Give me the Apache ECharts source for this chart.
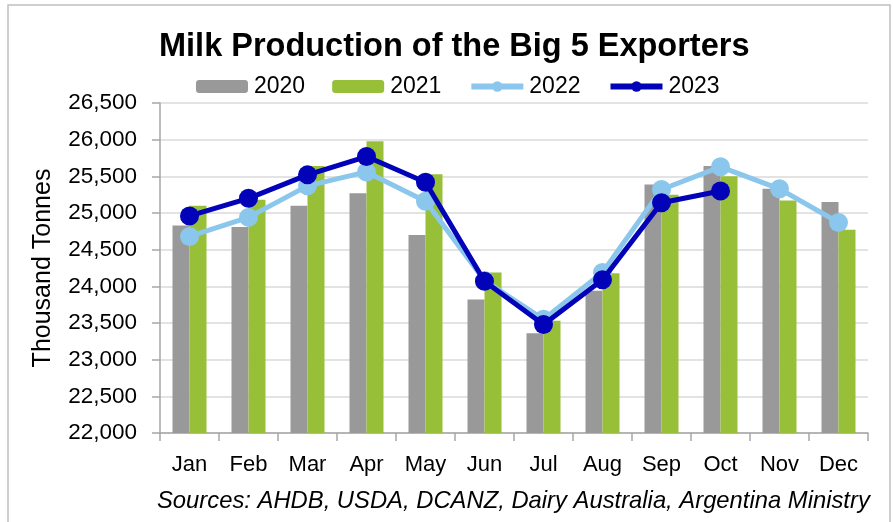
<!DOCTYPE html>
<html>
<head>
<meta charset="utf-8">
<title>Milk Production of the Big 5 Exporters</title>
<script src="https://cdn.jsdelivr.net/npm/echarts@6/dist/echarts.min.js"></script>
<style>
  html, body { margin: 0; padding: 0; background: #ffffff; }
  #chart { width: 893px; height: 522px; }
</style>
</head>
<body>
<div id="chart"></div>
<script>
// Monthly milk production, thousand tonnes
const months = ['Jan', 'Feb', 'Mar', 'Apr', 'May', 'Jun', 'Jul', 'Aug', 'Sep', 'Oct', 'Nov', 'Dec'];
const y2020 = [24830, 24810, 25100, 25270, 24700, 23820, 23360, 23940, 25390, 25640, 25330, 25150];
const y2021 = [25100, 25180, 25640, 25980, 25530, 24190, 23530, 24180, 25250, 25500, 25170, 24770];
const y2022 = [24680, 24940, 25370, 25560, 25160, 24080, 23550, 24190, 25320, 25630, 25330, 24870];
const y2023 = [24960, 25200, 25520, 25770, 25420, 24070, 23480, 24090, 25140, 25300, null, null];
const yTicks = { min: 22000, max: 26500, step: 500 };

const FONT = '"Liberation Sans", Arial, sans-serif';
const chart = echarts.init(document.getElementById('chart'), null, { renderer: 'canvas' });

function lineSeries(name, data, color, z) {
  return {
    name: name,
    type: 'line',
    data: data,
    z: z,
    symbol: 'circle',
    symbolSize: 19,
    lineStyle: { color: color, width: 5 },
    itemStyle: { color: color },
    connectNulls: false,
    animation: false
  };
}

chart.setOption({
  backgroundColor: '#ffffff',
  animation: false,
  title: {
    text: 'Milk Production of the Big 5 Exporters',
    left: 154,
    top: 26,
    textStyle: { fontFamily: FONT, fontSize: 32.5, fontWeight: 'bold', color: '#000000' }
  },
  legend: {
    top: 70,
    left: 191,
    itemWidth: 52,
    itemHeight: 13,
    itemGap: 27,
    textStyle: { fontFamily: FONT, fontSize: 23, color: '#000000', padding: [0, 0, 0, 1] },
    data: [
      { name: '2020' },
      { name: '2021' },
      { name: '2022', lineStyle: { width: 6 }, itemStyle: { color: '#8bc6ec' } },
      { name: '2023', lineStyle: { width: 6 }, itemStyle: { color: '#0202b8' } }
    ]
  },
  grid: { left: 160, right: 25, top: 103, bottom: 89, containLabel: false },
  xAxis: {
    type: 'category',
    data: months,
    boundaryGap: true,
    axisLine: { lineStyle: { color: '#a6a6a6', width: 1.5 } },
    axisTick: { show: true, length: 8, alignWithLabel: false, lineStyle: { color: '#a6a6a6', width: 1.5 } },
    axisLabel: { fontFamily: FONT, fontSize: 22, color: '#000000', margin: 21 },
    splitLine: { show: false }
  },
  yAxis: {
    type: 'value',
    min: yTicks.min,
    max: yTicks.max,
    interval: yTicks.step,
    name: 'Thousand Tonnes',
    nameLocation: 'middle',
    nameGap: 104,
    nameTextStyle: { fontFamily: FONT, fontSize: 25, color: '#000000' },
    axisLine: { show: true, lineStyle: { color: '#a6a6a6', width: 1.5 } },
    axisTick: { show: true, length: 8, lineStyle: { color: '#a6a6a6', width: 1.5 } },
    axisLabel: {
      fontFamily: FONT, fontSize: 22.5, color: '#000000', margin: 23,
      formatter: v => v.toLocaleString('en-US')
    },
    splitLine: { show: true, lineStyle: { color: '#e3e3e3', width: 2 } }
  },
  graphic: [
    {
      type: 'rect',
      shape: { x: 8, y: 5, width: 882, height: 540 },
      style: { fill: 'none', stroke: '#c0c0c0', lineWidth: 1.5 },
      silent: true
    },
    {
      type: 'text',
      left: 157,
      top: 489,
      style: {
        text: 'Sources: AHDB, USDA, DCANZ, Dairy Australia, Argentina Ministry',
        font: 'italic 23.8px "Liberation Sans", Arial, sans-serif',
        fill: '#000000'
      }
    }
  ],
  series: [
    {
      name: '2020', type: 'bar', data: y2020, barWidth: 17, barGap: '0%',
      itemStyle: { color: '#999999' }
    },
    {
      name: '2021', type: 'bar', data: y2021, barWidth: 17, barGap: '0%',
      itemStyle: { color: '#97c038' }
    },
    lineSeries('2022', y2022, '#8bc6ec', 3),
    lineSeries('2023', y2023, '#0202b8', 4)
  ]
});
</script>
</body>
</html>
